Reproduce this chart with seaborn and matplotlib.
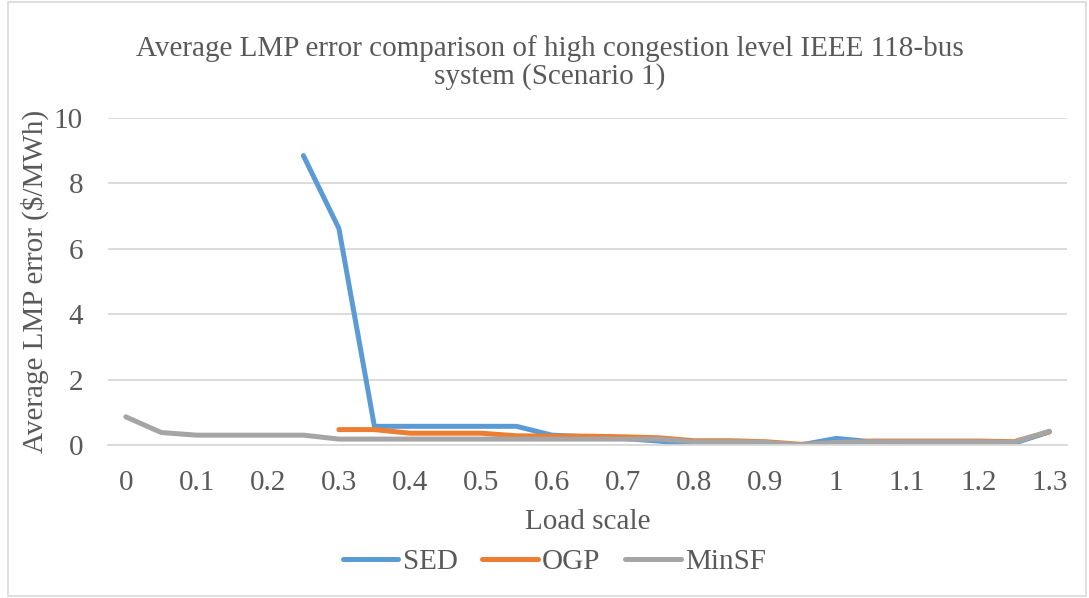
import numpy as np
import pandas as pd
import matplotlib
matplotlib.use("Agg")
import matplotlib.pyplot as plt
import seaborn as sns
from matplotlib.patches import Rectangle

load_scale = ["0", "0.05", "0.1", "0.15", "0.2", "0.25", "0.3", "0.35", "0.4", "0.45",
              "0.5", "0.55", "0.6", "0.65", "0.7", "0.75", "0.8", "0.85", "0.9", "0.95",
              "1", "1.05", "1.1", "1.15", "1.2", "1.25", "1.3"]
nan = np.nan
sed = [nan, nan, nan, nan, nan, 8.85, 6.62, 0.57, 0.57, 0.57,
       0.57, 0.57, 0.30, 0.25, 0.20, 0.12, 0.02, 0.02, 0.02, 0.00,
       0.20, 0.10, 0.08, 0.05, 0.05, 0.05, 0.40]
ogp = [nan, nan, nan, nan, nan, nan, 0.47, 0.47, 0.36, 0.36,
       0.36, 0.28, 0.27, 0.27, 0.25, 0.22, 0.13, 0.13, 0.10, 0.02,
       0.05, 0.12, 0.12, 0.12, 0.12, 0.10, 0.40]
minsf = [0.86, 0.38, 0.30, 0.30, 0.30, 0.30, 0.18, 0.18, 0.18, 0.18,
         0.18, 0.18, 0.18, 0.18, 0.18, 0.18, 0.10, 0.10, 0.08, 0.00,
         0.08, 0.10, 0.10, 0.10, 0.10, 0.08, 0.42]
series_names = ["SED", "OGP", "MinSF"]
colors = ["#5B9BD5", "#ED7D31", "#A5A5A5"]

pos = np.arange(len(load_scale))
df = pd.concat([
    pd.DataFrame({"pos": pos, "value": vals, "series": name})
    for name, vals in zip(series_names, [sed, ogp, minsf])
]).dropna()

sns.set_theme(style="white")
plt.rcParams["font.family"] = ["Liberation Serif", "DejaVu Serif"]
text_color = "#595959"
fs = 21

fig = plt.figure(figsize=(10.89, 5.98), dpi=100)
ax = fig.add_axes([0.0992, 0.2559, 0.8806, 0.5468])

sns.lineplot(data=df, x="pos", y="value", hue="series", hue_order=series_names,
             palette=dict(zip(series_names, colors)), linewidth=3.6, ax=ax,
             solid_capstyle="round", solid_joinstyle="round", legend=False)

ax.set_xlim(-0.5, len(load_scale) - 0.5)
ax.set_ylim(0, 10)
ax.set_yticks(np.arange(0, 11, 2))
ax.set_yticklabels([str(v) for v in range(0, 11, 2)], fontsize=fs, color=text_color)
ax.set_xticks(pos[::2])
ax.set_xticklabels(load_scale[::2], fontsize=fs, color=text_color)
ax.tick_params(axis="x", length=0, pad=18)
ax.tick_params(axis="y", length=0, pad=18)
ax.grid(axis="y", color="#D9D9D9", linewidth=1.3)
ax.set_axisbelow(True)
for s in ["top", "right", "left"]:
    ax.spines[s].set_visible(False)
ax.spines["bottom"].set_color("#D9D9D9")
ax.spines["bottom"].set_linewidth(1.3)

ax.set_xlabel("Load scale", fontsize=fs, color=text_color)
ax.xaxis.set_label_coords(0.5, -0.195)
ax.set_ylabel("Average LMP error ($/MWh)", fontsize=fs, color=text_color)
ax.yaxis.set_label_coords(-0.062, 0.5)

fig.text(0.505, 0.895, "Average LMP error comparison of high congestion level IEEE 118-bus\nsystem (Scenario 1)",
         ha="center", va="center", fontsize=fs, color=text_color, linespacing=1.05)

handles = [plt.Line2D([0], [0], color=c, linewidth=3.6, solid_capstyle="round") for c in colors]
fig.legend(handles, series_names, loc="center", bbox_to_anchor=(0.509, 0.06), ncol=3,
           frameon=False, fontsize=fs, handlelength=1.9, handletextpad=0.15,
           columnspacing=0.85, labelcolor=text_color)

fig.patches.append(Rectangle((0.007, 0.003), 0.99, 0.993, transform=fig.transFigure,
                             fill=False, edgecolor="#D9D9D9", linewidth=1.2))

fig.savefig("out.png", dpi=100)
